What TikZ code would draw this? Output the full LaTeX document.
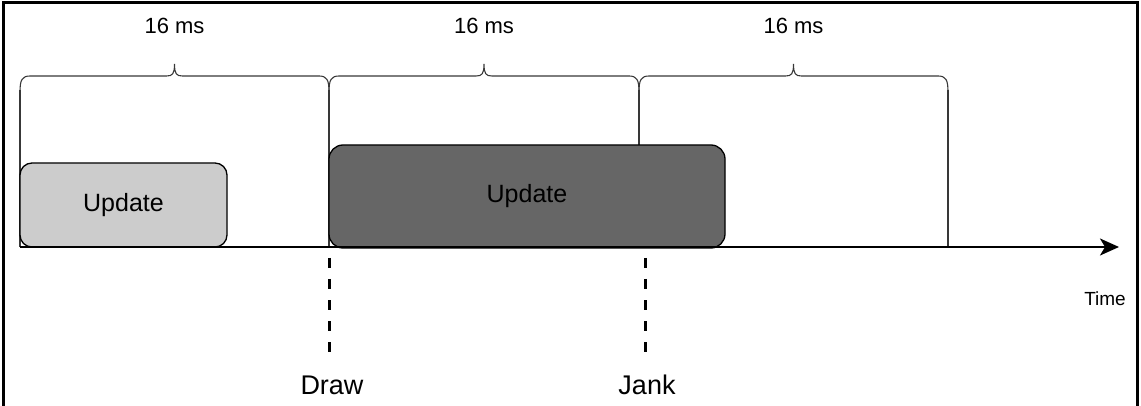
\documentclass[tikz,border=0pt]{standalone}
\usepackage{fontspec}
\setmainfont{Liberation Sans}
\usetikzlibrary{arrows.meta}
\definecolor{lightbox}{HTML}{CCCCCC}
\definecolor{darkbox}{HTML}{666666}
\definecolor{braceline}{HTML}{383838}
\tikzset{
  braceln/.style={draw=braceline, line width=1.1pt},
  updbox/.style={draw=black, line width=1.3pt, rounded corners=12pt, inner sep=0pt, font=\fontsize{25}{30}\selectfont},
  mslabel/.style={inner sep=0pt, font=\fontsize{22}{26}\selectfont},
  biglabel/.style={inner sep=0pt, font=\fontsize{27}{32}\selectfont},
  dashln/.style={line width=3pt, dash pattern=on 10pt off 11pt},
}
\begin{document}
\begin{tikzpicture}[x=1pt, y=-1pt]
\useasboundingbox (0,0) rectangle (1141,406);
% frame
\draw[line width=2.5pt] (3.5,406) -- (3.5,2.5) -- (1137.5,2.5) -- (1137.5,406);
% braces
\foreach \l/\c/\r in {20/174.5/329, 329/484/639, 639/793.5/948}{
  \draw[braceln] (\l,92) .. controls (\l,80) and (\l+2,76) .. (\l+10,76)
    -- (\c-8,76) .. controls (\c-2,76) and (\c,74) .. (\c,64)
    .. controls (\c,74) and (\c+2,76) .. (\c+8,76)
    -- (\r-10,76) .. controls (\r-2,76) and (\r,80) .. (\r,92);
}
% labels 16 ms
\node[mslabel] (ms1) at (174.5,26) {16 ms};
\node[mslabel] (ms2) at (484,26) {16 ms};
\node[mslabel] (ms3) at (793.5,26) {16 ms};
% vertical lines
\draw[braceln] (20,90) -- (20,247);
\draw[braceln] (329,90) -- (329,247);
\draw[braceln] (639,90) -- (639,150);
\draw[braceln] (948,90) -- (948,247);
% boxes
\node[updbox, fill=lightbox, minimum width=207pt, minimum height=84pt] (upd1) at (123.5,205) {Update};
\node[updbox, fill=darkbox, rounded corners=14pt, minimum width=396pt, minimum height=103pt] (upd2) at (527,196.5) {Update};
% axis
\coordinate (axstart) at (20,247);
\coordinate (axend) at (1119,247);
\draw[line width=2pt, -{Stealth[length=19pt, width=17pt, inset=5pt]}] (axstart) -- (axend);
\node[inner sep=0pt, font=\fontsize{19}{23}\selectfont] (time) at (1105,299) {Time};
% dashed markers
\node[biglabel] (draw) at (332,385) {Draw};
\node[biglabel] (jank) at (647,385) {Jank};
\coordinate (d1) at (329,258);
\coordinate (d2) at (329,352);
\coordinate (j1) at (645,258);
\coordinate (j2) at (645,352);
\draw[dashln] (d1) -- (d2);
\draw[dashln] (j1) -- (j2);
\end{tikzpicture}
\end{document}
